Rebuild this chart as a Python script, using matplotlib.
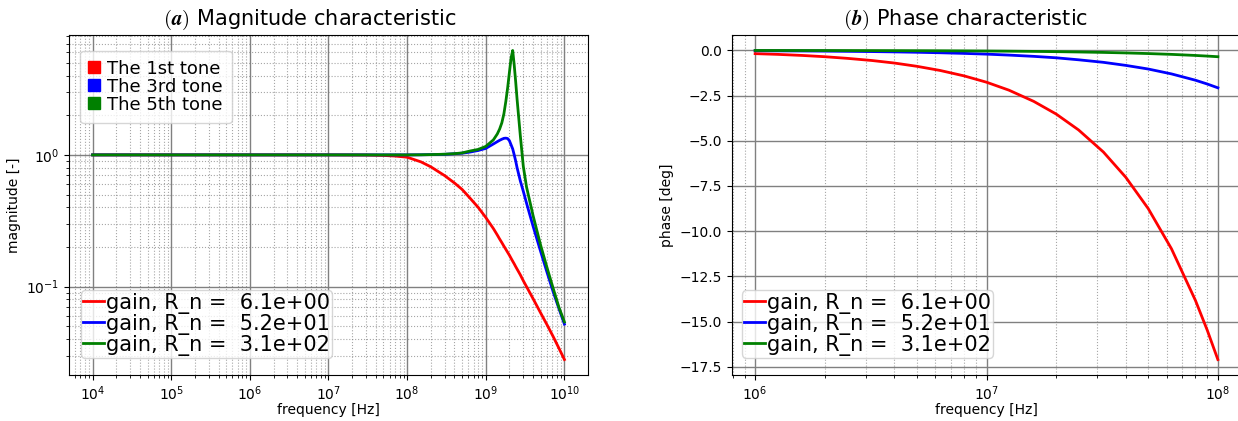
import matplotlib
matplotlib.use("Agg")
import matplotlib.pyplot as plt
from matplotlib.lines import Line2D

plt.rcParams["mathtext.fontset"] = "cm"

# ---- magnitude data ----
freq_mag = [1e4, 1e5, 1e6, 1e7, 3e7, 5e7, 7e7, 1e8, 1.5e8, 2e8, 3e8, 4e8, 5e8,
            6.3e8, 8e8, 1e9, 1.25e9, 1.4e9, 1.5e9, 1.6e9, 1.7e9, 1.8e9, 1.9e9,
            2.0e9, 2.1e9, 2.2e9, 2.3e9, 2.4e9, 2.5e9, 2.75e9, 3e9, 3.3e9,
            4e9, 5e9, 6e9, 7.2e9, 8.5e9, 1e10]
mag_1st = [1.0, 1.0, 1.0, 1.0, 0.997, 0.99, 0.98, 0.96, 0.885, 0.812, 0.696, 0.612, 0.547,
           0.47, 0.40, 0.335, 0.276, 0.247, 0.230, 0.216, 0.203, 0.192, 0.182,
           0.173, 0.164, 0.156, 0.149, 0.142, 0.136, 0.123, 0.111, 0.100,
           0.081, 0.063, 0.0515, 0.0418, 0.0342, 0.028]
mag_3rd = [1.0, 1.0, 1.0, 1.0, 1.0, 1.0, 1.0, 1.0, 1.002, 1.005, 1.01, 1.02, 1.03,
           1.05, 1.08, 1.12, 1.21, 1.26, 1.29, 1.315, 1.335, 1.34, 1.33,
           1.28, 1.19, 1.11, 1.0, 0.90, 0.80, 0.635, 0.53, 0.43,
           0.287, 0.184, 0.129, 0.0913, 0.0685, 0.052]
mag_5th = [1.0, 1.0, 1.0, 1.0, 1.0, 1.0, 1.0, 1.0, 1.002, 1.005, 1.012, 1.022, 1.035,
           1.07, 1.10, 1.16, 1.30, 1.44, 1.57, 1.75, 2.05, 2.55, 3.25,
           4.25, 5.45, 6.2, 4.8, 3.6, 2.65, 1.40, 0.82, 0.57,
           0.345, 0.205, 0.14, 0.097, 0.07, 0.054]

# ---- phase data ----
freq_ph = [1e6, 1.25e6, 1.6e6, 2e6, 2.5e6, 3.2e6, 4e6, 5e6, 6.3e6, 8e6,
           1e7, 1.25e7, 1.6e7, 2e7, 2.5e7, 3.2e7, 4e7, 5e7, 6.3e7, 8e7, 9e7, 1e8]
ph_1st = [-0.18, -0.22, -0.28, -0.35, -0.44, -0.56, -0.70, -0.88, -1.11, -1.41,
          -1.76, -2.20, -2.82, -3.52, -4.40, -5.62, -7.02, -8.75, -10.97, -13.83, -15.48, -17.1]
ph_3rd = [-0.02, -0.026, -0.033, -0.041, -0.052, -0.066, -0.083, -0.104, -0.131, -0.166,
          -0.207, -0.26, -0.33, -0.41, -0.52, -0.66, -0.83, -1.03, -1.30, -1.65, -1.86, -2.07]
ph_5th = [-0.0035, -0.0044, -0.0056, -0.007, -0.0088, -0.011, -0.014, -0.0175, -0.022, -0.028,
          -0.035, -0.044, -0.056, -0.07, -0.088, -0.112, -0.14, -0.175, -0.22, -0.28, -0.315, -0.35]

colors = ["red", "blue", "green"]
R_n = [6.1e+00, 5.2e+01, 3.1e+02]
tones = ["The 1st tone", "The 3rd tone", "The 5th tone"]
mag_decades = [1e4, 1e5, 1e6, 1e7, 1e8, 1e9, 1e10]
ph_decades = [1e6, 1e7, 1e8]


def style_grid(ax):
    ax.grid(True, which="major", color="gray", linestyle="-", linewidth=1.0)
    ax.grid(True, which="minor", color="gray", linestyle=":", linewidth=0.8, alpha=0.7)


def gain_legend(ax, x):
    return ax.legend(loc="lower left", bbox_to_anchor=(x, 0.051), borderaxespad=0,
                     fontsize=15, handlelength=1.0, handletextpad=0.1,
                     labelspacing=0.0, borderpad=0.1)


fig = plt.figure(figsize=(12.38, 4.21), dpi=100)
ax1 = fig.add_axes([69 / 1238, 46 / 421, 519 / 1238, 340 / 421])
ax2 = fig.add_axes([732 / 1238, 46 / 421, 509 / 1238, 340 / 421])

# ---- (a) magnitude ----
for mag, c, r in zip([mag_1st, mag_3rd, mag_5th], colors, R_n):
    ax1.loglog(freq_mag, mag, color=c, linewidth=2,
               label="gain, R_n = {:8.1e}".format(r))
ax1.set_xticks(mag_decades)
style_grid(ax1)
ax1.set_xlabel("frequency [Hz]", labelpad=0)
ax1.set_ylabel("magnitude [-]")
ax1.set_title(r"$(\boldsymbol{a})$ Magnitude characteristic", fontsize=15, pad=7, x=0.464)

leg_lines = gain_legend(ax1, 0.0225)
tone_handles = [Line2D([], [], marker="s", linestyle="", color=c, markersize=8)
                for c in colors]
leg_tones = ax1.legend(tone_handles, tones, loc="upper left",
                       bbox_to_anchor=(0.0212, 0.954), borderaxespad=0,
                       fontsize=13, handlelength=0.55, handletextpad=0.45,
                       labelspacing=0.0, borderpad=0.5)
ax1.add_artist(leg_lines)

# ---- (b) phase ----
for ph, c, r in zip([ph_1st, ph_3rd, ph_5th], colors, R_n):
    ax2.semilogx(freq_ph, ph, color=c, linewidth=2,
                 label="gain, R_n = {:8.1e}".format(r))
ax2.set_xticks(ph_decades)
style_grid(ax2)
ax2.set_xlabel("frequency [Hz]", labelpad=0)
ax2.set_ylabel("phase [deg]")
ax2.set_title(r"$(\boldsymbol{b})$ Phase characteristic", fontsize=15, pad=7, x=0.458)
gain_legend(ax2, 0.02)

fig.savefig("out.png", dpi=100)
